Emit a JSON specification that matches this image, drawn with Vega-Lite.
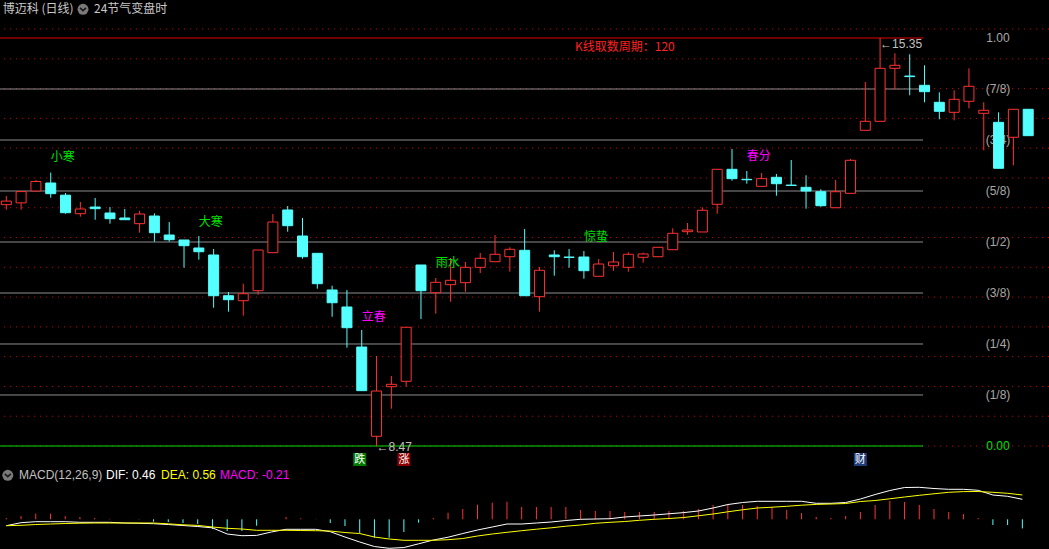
{
"$schema": "https://vega.github.io/schema/vega-lite/v6.json",
"width": 1049, "height": 549,
"autosize": {"type": "none"},
"padding": 0,
"background": "#000000",
"config": {"view": {"stroke": null}, "axis": {"disable": true}, "font": "Liberation Sans, Noto Sans CJK SC", "scale": {"continuousPadding": 0}},
"datasets": {
"candles": [
{"i":0,"o":12.54,"h":12.686,"l":12.455,"c":12.60},
{"i":1,"o":12.57,"h":12.76,"l":12.455,"c":12.76},
{"i":2,"o":12.77,"h":12.956,"l":12.77,"c":12.93},
{"i":3,"o":12.905,"h":13.08,"l":12.657,"c":12.725},
{"i":4,"o":12.70,"h":12.736,"l":12.387,"c":12.404},
{"i":5,"o":12.387,"h":12.585,"l":12.337,"c":12.467},
{"i":6,"o":12.50,"h":12.652,"l":12.286,"c":12.472},
{"i":7,"o":12.399,"h":12.50,"l":12.219,"c":12.303},
{"i":8,"o":12.315,"h":12.467,"l":12.286,"c":12.286},
{"i":9,"o":12.219,"h":12.433,"l":12.067,"c":12.382},
{"i":10,"o":12.348,"h":12.394,"l":11.915,"c":12.067},
{"i":11,"o":12.028,"h":12.247,"l":11.915,"c":11.949},
{"i":12,"o":11.944,"h":11.944,"l":11.477,"c":11.848},
{"i":13,"o":11.809,"h":12.011,"l":11.612,"c":11.746},
{"i":14,"o":11.691,"h":11.792,"l":10.802,"c":11.004},
{"i":15,"o":11.004,"h":11.067,"l":10.735,"c":10.937},
{"i":16,"o":10.92,"h":11.207,"l":10.667,"c":11.038},
{"i":17,"o":11.089,"h":11.775,"l":11.021,"c":11.775},
{"i":18,"o":11.73,"h":12.382,"l":11.73,"c":12.247},
{"i":19,"o":12.45,"h":12.517,"l":12.084,"c":12.185},
{"i":20,"o":12.011,"h":12.315,"l":11.628,"c":11.662},
{"i":21,"o":11.719,"h":11.719,"l":11.123,"c":11.207},
{"i":22,"o":11.101,"h":11.173,"l":10.65,"c":10.886},
{"i":23,"o":10.814,"h":11.101,"l":10.128,"c":10.465},
{"i":24,"o":10.139,"h":10.426,"l":9.403,"c":9.403},
{"i":25,"o":8.634,"h":9.988,"l":8.47,"c":9.397},
{"i":26,"o":9.47,"h":9.65,"l":9.099,"c":9.51},
{"i":27,"o":9.561,"h":10.472,"l":9.47,"c":10.472},
{"i":28,"o":11.522,"h":11.522,"l":10.612,"c":11.089},
{"i":29,"o":11.055,"h":11.303,"l":10.701,"c":11.23},
{"i":30,"o":11.19,"h":11.64,"l":10.903,"c":11.264},
{"i":31,"o":11.224,"h":11.573,"l":11.072,"c":11.483},
{"i":32,"o":11.483,"h":11.725,"l":11.387,"c":11.635},
{"i":33,"o":11.578,"h":12.028,"l":11.578,"c":11.703},
{"i":34,"o":11.662,"h":11.821,"l":11.409,"c":11.787},
{"i":35,"o":11.77,"h":12.129,"l":11.004,"c":11.004},
{"i":36,"o":10.988,"h":11.488,"l":10.735,"c":11.433},
{"i":37,"o":11.691,"h":11.77,"l":11.342,"c":11.662},
{"i":38,"o":11.657,"h":11.792,"l":11.477,"c":11.649},
{"i":39,"o":11.657,"h":11.758,"l":11.291,"c":11.426},
{"i":40,"o":11.332,"h":11.623,"l":11.332,"c":11.539},
{"i":41,"o":11.51,"h":11.741,"l":11.426,"c":11.573},
{"i":42,"o":11.483,"h":11.736,"l":11.409,"c":11.703},
{"i":43,"o":11.652,"h":11.73,"l":11.561,"c":11.708},
{"i":44,"o":11.662,"h":11.821,"l":11.662,"c":11.821},
{"i":45,"o":11.78,"h":12.141,"l":11.78,"c":12.057},
{"i":46,"o":12.084,"h":12.23,"l":12.033,"c":12.112},
{"i":47,"o":12.079,"h":12.495,"l":12.079,"c":12.445},
{"i":48,"o":12.546,"h":13.136,"l":12.387,"c":13.136},
{"i":49,"o":13.136,"h":13.478,"l":12.944,"c":12.978},
{"i":50,"o":12.967,"h":13.107,"l":12.893,"c":12.96},
{"i":51,"o":12.849,"h":13.074,"l":12.849,"c":12.978},
{"i":52,"o":13.001,"h":13.057,"l":12.691,"c":12.893},
{"i":53,"o":12.87,"h":13.293,"l":12.86,"c":12.863},
{"i":54,"o":12.832,"h":13.035,"l":12.472,"c":12.77},
{"i":55,"o":12.758,"h":12.799,"l":12.505,"c":12.522},
{"i":56,"o":12.488,"h":12.956,"l":12.488,"c":12.758},
{"i":57,"o":12.731,"h":13.31,"l":12.731,"c":13.288},
{"i":58,"o":13.794,"h":14.608,"l":13.794,"c":13.945},
{"i":59,"o":13.945,"h":15.35,"l":13.945,"c":14.839},
{"i":60,"o":14.839,"h":15.092,"l":14.485,"c":14.89},
{"i":61,"o":14.709,"h":15.075,"l":14.384,"c":14.699},
{"i":62,"o":14.552,"h":14.89,"l":14.266,"c":14.445},
{"i":63,"o":14.266,"h":14.434,"l":13.979,"c":14.114},
{"i":64,"o":14.097,"h":14.468,"l":13.962,"c":14.316},
{"i":65,"o":14.283,"h":14.839,"l":14.165,"c":14.536},
{"i":66,"o":14.08,"h":14.266,"l":13.456,"c":14.131},
{"i":67,"o":13.928,"h":14.097,"l":13.153,"c":13.153},
{"i":68,"o":13.676,"h":14.148,"l":13.203,"c":14.148},
{"i":69,"o":14.148,"h":14.148,"l":13.703,"c":13.703}
],
"macd": [
{"i":0,"dif":-0.147,"dea":-0.147,"m":0.03},
{"i":1,"dif":-0.078,"dea":-0.138,"m":0.076},
{"i":2,"dif":-0.055,"dea":-0.12,"m":0.129},
{"i":3,"dif":-0.055,"dea":-0.108,"m":0.129},
{"i":4,"dif":-0.055,"dea":-0.097,"m":0.076},
{"i":5,"dif":-0.069,"dea":-0.09,"m":0.053},
{"i":6,"dif":-0.069,"dea":-0.085,"m":0.03},
{"i":7,"dif":-0.069,"dea":-0.085,"m":0.01},
{"i":8,"dif":-0.085,"dea":-0.085,"m":0.0},
{"i":9,"dif":-0.092,"dea":-0.085,"m":-0.005},
{"i":10,"dif":-0.101,"dea":-0.085,"m":-0.055},
{"i":11,"dif":-0.12,"dea":-0.104,"m":-0.062},
{"i":12,"dif":-0.143,"dea":-0.127,"m":-0.085},
{"i":13,"dif":-0.166,"dea":-0.14,"m":-0.108},
{"i":14,"dif":-0.196,"dea":-0.177,"m":-0.223},
{"i":15,"dif":-0.338,"dea":-0.207,"m":-0.269},
{"i":16,"dif":-0.377,"dea":-0.223,"m":-0.269},
{"i":17,"dif":-0.37,"dea":-0.253,"m":-0.147},
{"i":18,"dif":-0.292,"dea":-0.253,"m":0.0},
{"i":19,"dif":-0.23,"dea":-0.253,"m":0.053},
{"i":20,"dif":-0.23,"dea":-0.258,"m":0.023},
{"i":21,"dif":-0.23,"dea":-0.262,"m":0.005},
{"i":22,"dif":-0.285,"dea":-0.269,"m":-0.085},
{"i":23,"dif":-0.407,"dea":-0.304,"m":-0.154},
{"i":24,"dif":-0.522,"dea":-0.327,"m":-0.315},
{"i":25,"dif":-0.626,"dea":-0.407,"m":-0.423},
{"i":26,"dif":-0.667,"dea":-0.453,"m":-0.423},
{"i":27,"dif":-0.649,"dea":-0.483,"m":-0.292},
{"i":28,"dif":-0.564,"dea":-0.483,"m":-0.078},
{"i":29,"dif":-0.476,"dea":-0.483,"m":0.03},
{"i":30,"dif":-0.412,"dea":-0.469,"m":0.152},
{"i":31,"dif":-0.327,"dea":-0.442,"m":0.237},
{"i":32,"dif":-0.246,"dea":-0.384,"m":0.336},
{"i":33,"dif":-0.177,"dea":-0.338,"m":0.382},
{"i":34,"dif":-0.108,"dea":-0.299,"m":0.405},
{"i":35,"dif":-0.108,"dea":-0.262,"m":0.283},
{"i":36,"dif":-0.085,"dea":-0.228,"m":0.283},
{"i":37,"dif":-0.062,"dea":-0.196,"m":0.283},
{"i":38,"dif":-0.028,"dea":-0.159,"m":0.283},
{"i":39,"dif":0.0,"dea":-0.131,"m":0.214},
{"i":40,"dif":0.007,"dea":-0.092,"m":0.191},
{"i":41,"dif":0.014,"dea":-0.069,"m":0.191},
{"i":42,"dif":0.053,"dea":-0.051,"m":0.168},
{"i":43,"dif":0.076,"dea":-0.023,"m":0.168},
{"i":44,"dif":0.099,"dea":0.0,"m":0.168},
{"i":45,"dif":0.127,"dea":0.018,"m":0.191},
{"i":46,"dif":0.154,"dea":0.041,"m":0.191},
{"i":47,"dif":0.191,"dea":0.081,"m":0.237},
{"i":48,"dif":0.26,"dea":0.122,"m":0.329},
{"i":49,"dif":0.34,"dea":0.173,"m":0.352},
{"i":50,"dif":0.386,"dea":0.219,"m":0.329},
{"i":51,"dif":0.414,"dea":0.26,"m":0.306},
{"i":52,"dif":0.414,"dea":0.278,"m":0.283},
{"i":53,"dif":0.414,"dea":0.299,"m":0.214},
{"i":54,"dif":0.414,"dea":0.324,"m":0.145},
{"i":55,"dif":0.368,"dea":0.343,"m":0.053},
{"i":56,"dif":0.368,"dea":0.352,"m":0.03},
{"i":57,"dif":0.386,"dea":0.363,"m":0.076},
{"i":58,"dif":0.467,"dea":0.409,"m":0.168},
{"i":59,"dif":0.57,"dea":0.432,"m":0.329},
{"i":60,"dif":0.662,"dea":0.472,"m":0.421},
{"i":61,"dif":0.731,"dea":0.513,"m":0.398},
{"i":62,"dif":0.736,"dea":0.552,"m":0.329},
{"i":63,"dif":0.708,"dea":0.587,"m":0.237},
{"i":64,"dif":0.69,"dea":0.621,"m":0.168},
{"i":65,"dif":0.69,"dea":0.637,"m":0.122},
{"i":66,"dif":0.667,"dea":0.639,"m":0.03},
{"i":67,"dif":0.559,"dea":0.621,"m":-0.131},
{"i":68,"dif":0.529,"dea":0.598,"m":-0.131},
{"i":69,"dif":0.46,"dea":0.56,"m":-0.21}
],
"grid": [{"p":8.47},{"p":8.972},{"p":9.475},{"p":9.977},{"p":10.479},{"p":10.981},{"p":11.484},{"p":11.986},{"p":12.488},{"p":12.99},{"p":13.493},{"p":13.995},{"p":14.497},{"p":14.999},{"p":15.502}],
"levels": [{"p":15.35,"lab":"1.00"},{"p":14.49,"lab":"(7/8)"},{"p":13.63,"lab":"(3/4)"},{"p":12.77,"lab":"(5/8)"},{"p":11.91,"lab":"(1/2)"},{"p":11.05,"lab":"(3/8)"},{"p":10.19,"lab":"(1/4)"},{"p":9.33,"lab":"(1/8)"},{"p":8.47,"lab":"0.00"}],
"terms": [{"i":3,"p":13.343,"t":"小寒"},{"i":13,"p":12.247,"t":"大寒"},{"i":24,"p":10.645,"t":"立春"},{"i":29,"p":11.556,"t":"雨水"},{"i":39,"p":11.994,"t":"惊蛰"},{"i":50,"p":13.36,"t":"春分"}],
"extremes": [{"i":59,"p":15.249,"t":"←15.35"},{"i":25,"p":8.455,"t":"←8.47"}],
"header": [{"x":0.862,"t":"MACD(12,26,9)","s":"name"},{"x":6.77,"t":"DIF: 0.46","s":"DIF"},{"x":10.51,"t":"DEA: 0.56","s":"DEA"},{"x":14.51,"t":"MACD: -0.21","s":"MACD"}],
"signals": [{"i":24,"t":"跌"},{"i":27,"t":"涨"},{"i":58,"t":"财"}]
},
"layer": [
{
"layer": [
{"data": {"name": "grid"}, "mark": {"type": "rule", "color": "#c80000", "strokeWidth": 1, "strokeDash": [1, 5]},
 "encoding": {"y": {"field": "p", "type": "quantitative", "scale": {"domain": [6.733, 15.991], "nice": false, "zero": false}}}},
{"data": {"name": "levels"}, "mark": {"type": "rule", "strokeWidth": 1},
 "encoding": {
  "x": {"datum": -0.4254, "type": "quantitative", "scale": {"domain": [-0.4254, 70.405], "nice": false, "zero": false, "padding": 0}},
  "x2": {"datum": 61.9},
  "y": {"field": "p", "type": "quantitative", "scale": {"domain": [6.733, 15.991], "nice": false, "zero": false}},
  "color": {"condition": [{"test": "datum.lab == '1.00'", "value": "#e00000"}, {"test": "datum.lab == '0.00'", "value": "#00e000"}], "value": "#8c8c8c"}}},
{"data": {"name": "levels"}, "mark": {"type": "text", "fontSize": 12, "align": "center", "baseline": "middle"},
 "encoding": {
  "x": {"datum": 66.96, "type": "quantitative", "scale": {"domain": [-0.4254, 70.405], "nice": false, "zero": false, "padding": 0}},
  "y": {"field": "p", "type": "quantitative", "scale": {"domain": [6.733, 15.991], "nice": false, "zero": false}},
  "text": {"field": "lab"},
  "color": {"condition": {"test": "datum.lab == '0.00'", "value": "#00e000"}, "value": "#a8a8a8"}}},
{"data": {"name": "candles"}, "mark": {"type": "rule", "strokeWidth": 1},
 "encoding": {
  "x": {"field": "i", "type": "quantitative", "scale": {"domain": [-0.4254, 70.405], "nice": false, "zero": false, "padding": 0}},
  "y": {"field": "l", "type": "quantitative", "scale": {"domain": [6.733, 15.991], "nice": false, "zero": false}},
  "y2": {"field": "h"},
  "color": {"condition": {"test": "datum.c < datum.o", "value": "#54ffff"}, "value": "#ff3232"}}},
{"data": {"name": "candles"}, "mark": {"type": "bar", "width": 10, "strokeWidth": 1},
 "encoding": {
  "x": {"field": "i", "type": "quantitative", "scale": {"domain": [-0.4254, 70.405], "nice": false, "zero": false, "padding": 0}},
  "y": {"field": "o", "type": "quantitative", "scale": {"domain": [6.733, 15.991], "nice": false, "zero": false}},
  "y2": {"field": "c"},
  "fill": {"condition": {"test": "datum.c < datum.o", "value": "#54ffff"}, "value": "#000000"},
  "stroke": {"condition": {"test": "datum.c < datum.o", "value": "#54ffff"}, "value": "#ff3232"}}},
{"data": {"name": "terms"}, "mark": {"type": "text", "fontSize": 12, "align": "left", "baseline": "middle", "font": "Noto Sans CJK SC"},
 "encoding": {
  "x": {"field": "i", "type": "quantitative", "scale": {"domain": [-0.4254, 70.405], "nice": false, "zero": false, "padding": 0}},
  "y": {"field": "p", "type": "quantitative", "scale": {"domain": [6.733, 15.991], "nice": false, "zero": false}},
  "text": {"field": "t"},
  "color": {"condition": {"test": "datum.t == '立春' || datum.t == '春分'", "value": "#ff00ff"}, "value": "#00e000"}}},
{"data": {"name": "extremes"}, "mark": {"type": "text", "fontSize": 12, "align": "left", "baseline": "middle", "color": "#c0c0c0"},
 "encoding": {
  "x": {"field": "i", "type": "quantitative", "scale": {"domain": [-0.4254, 70.405], "nice": false, "zero": false, "padding": 0}},
  "y": {"field": "p", "type": "quantitative", "scale": {"domain": [6.733, 15.991], "nice": false, "zero": false}},
  "text": {"field": "t"}}},
{"data": {"values": [{"x": 38.4, "p": 15.193, "t": "K线取数周期：120"}, {"x": -0.243, "p": 15.834, "t": "博迈科 (日线)"}, {"x": 5.92, "p": 15.834, "t": "24节气变盘时"}]},
 "mark": {"type": "text", "fontSize": 12, "align": "left", "baseline": "middle", "font": "Noto Sans CJK SC"},
 "encoding": {
  "x": {"field": "x", "type": "quantitative", "scale": {"domain": [-0.4254, 70.405], "nice": false, "zero": false, "padding": 0}},
  "y": {"field": "p", "type": "quantitative", "scale": {"domain": [6.733, 15.991], "nice": false, "zero": false}},
  "text": {"field": "t"},
  "color": {"condition": {"test": "datum.x > 30", "value": "#ff2020"}, "value": "#c8c8c8"}}},
{"data": {"values": [{"x": 5.18, "p": 15.834}]}, "mark": {"type": "point", "shape": "circle", "filled": true, "size": 120, "color": "#7a7a7a", "opacity": 1},
 "encoding": {
  "x": {"field": "x", "type": "quantitative", "scale": {"domain": [-0.4254, 70.405], "nice": false, "zero": false, "padding": 0}},
  "y": {"field": "p", "type": "quantitative", "scale": {"domain": [6.733, 15.991], "nice": false, "zero": false}}}},
{"data": {"values": [{"x": 5.18, "p": 15.834}]}, "mark": {"type": "point", "shape": "M-1,-0.45L0,0.45L1,-0.45", "filled": false, "size": 36, "stroke": "#1a1a1a", "strokeWidth": 1.6, "opacity": 1},
 "encoding": {
  "x": {"field": "x", "type": "quantitative", "scale": {"domain": [-0.4254, 70.405], "nice": false, "zero": false, "padding": 0}},
  "y": {"field": "p", "type": "quantitative", "scale": {"domain": [6.733, 15.991], "nice": false, "zero": false}}}}
]
},
{
"layer": [
{"mark": {"type": "rule", "color": "#c00000", "strokeWidth": 1, "strokeDash": [1, 2]},
 "encoding": {"y": {"datum": 0, "type": "quantitative", "scale": {"domain": [-0.683, 11.944], "nice": false, "zero": false}}}},
{"mark": {"type": "rule", "color": "#b00000", "strokeWidth": 1},
 "encoding": {"y": {"datum": 1.196, "type": "quantitative", "scale": {"domain": [-0.683, 11.944], "nice": false, "zero": false}}}},
{"data": {"name": "macd"}, "mark": {"type": "rule", "strokeWidth": 1},
 "encoding": {
  "x": {"field": "i", "type": "quantitative", "scale": {"domain": [-0.4278, 70.81], "nice": false, "zero": false, "padding": 0}},
  "y": {"field": "m", "type": "quantitative", "scale": {"domain": [-0.683, 11.944], "nice": false, "zero": false}},
  "y2": {"datum": 0},
  "color": {"condition": {"test": "datum.m < 0", "value": "#54ffff"}, "value": "#ff3232"}}},
{"data": {"name": "macd"}, "mark": {"type": "line", "color": "#ffffff", "strokeWidth": 1},
 "encoding": {
  "x": {"field": "i", "type": "quantitative", "scale": {"domain": [-0.4278, 70.81], "nice": false, "zero": false, "padding": 0}},
  "y": {"field": "dif", "type": "quantitative", "scale": {"domain": [-0.683, 11.944], "nice": false, "zero": false}}}},
{"data": {"name": "macd"}, "mark": {"type": "line", "color": "#ffff00", "strokeWidth": 1},
 "encoding": {
  "x": {"field": "i", "type": "quantitative", "scale": {"domain": [-0.4278, 70.81], "nice": false, "zero": false, "padding": 0}},
  "y": {"field": "dea", "type": "quantitative", "scale": {"domain": [-0.683, 11.944], "nice": false, "zero": false}}}},
{"data": {"name": "header"}, "mark": {"type": "text", "fontSize": 12, "align": "left", "baseline": "middle"},
 "encoding": {
  "x": {"field": "x", "type": "quantitative", "scale": {"domain": [-0.4278, 70.81], "nice": false, "zero": false, "padding": 0}},
  "y": {"datum": 1.012, "type": "quantitative", "scale": {"domain": [-0.683, 11.944], "nice": false, "zero": false}},
  "text": {"field": "t"},
  "color": {"field": "s", "type": "nominal", "scale": {"domain": ["name", "DIF", "DEA", "MACD"], "range": ["#c0c0c0", "#ffffff", "#ffff00", "#ff00ff"]}, "legend": null}}},
{"data": {"values": [{"x": 0.1}]}, "mark": {"type": "point", "shape": "circle", "filled": true, "size": 120, "color": "#7a7a7a", "opacity": 1},
 "encoding": {
  "x": {"field": "x", "type": "quantitative", "scale": {"domain": [-0.4278, 70.81], "nice": false, "zero": false, "padding": 0}},
  "y": {"datum": 1.012, "type": "quantitative", "scale": {"domain": [-0.683, 11.944], "nice": false, "zero": false}}}},
{"data": {"values": [{"x": 0.1}]}, "mark": {"type": "point", "shape": "M-1,-0.45L0,0.45L1,-0.45", "filled": false, "size": 36, "stroke": "#1a1a1a", "strokeWidth": 1.6, "opacity": 1},
 "encoding": {
  "x": {"field": "x", "type": "quantitative", "scale": {"domain": [-0.4278, 70.81], "nice": false, "zero": false, "padding": 0}},
  "y": {"datum": 1.012, "type": "quantitative", "scale": {"domain": [-0.683, 11.944], "nice": false, "zero": false}}}},
{"data": {"name": "signals"}, "mark": {"type": "point", "shape": "square", "filled": true, "size": 169, "opacity": 1},
 "encoding": {
  "x": {"field": "i", "type": "quantitative", "scale": {"domain": [-0.4278, 70.81], "nice": false, "zero": false, "padding": 0}},
  "y": {"datum": 1.375, "type": "quantitative", "scale": {"domain": [-0.683, 11.944], "nice": false, "zero": false}},
  "fill": {"field": "t", "type": "nominal", "scale": {"domain": ["跌", "涨", "财"], "range": ["#007a00", "#8c0000", "#1e3c78"]}, "legend": null}}},
{"data": {"name": "signals"}, "mark": {"type": "text", "fontSize": 11, "align": "center", "baseline": "middle", "color": "#ffffff", "font": "Noto Sans CJK SC"},
 "encoding": {
  "x": {"field": "i", "type": "quantitative", "scale": {"domain": [-0.4278, 70.81], "nice": false, "zero": false, "padding": 0}},
  "y": {"datum": 1.375, "type": "quantitative", "scale": {"domain": [-0.683, 11.944], "nice": false, "zero": false}},
  "text": {"field": "t"}}}
]
}
],
"resolve": {"scale": {"x": "independent", "y": "independent", "color": "independent", "fill": "independent", "stroke": "independent"}}
}
